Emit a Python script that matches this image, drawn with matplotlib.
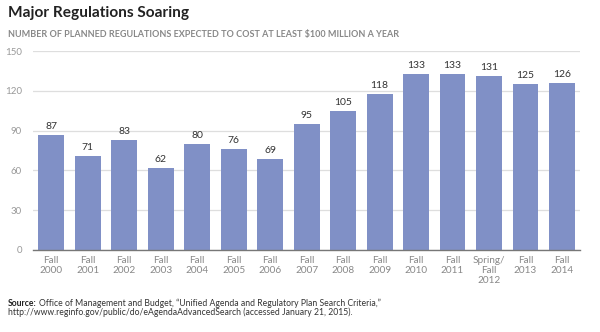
import matplotlib.pyplot as plt
import numpy as np

# Planned regulations expected to cost at least $100 million a year
periods = ["Fall\n2000", "Fall\n2001", "Fall\n2002", "Fall\n2003", "Fall\n2004",
           "Fall\n2005", "Fall\n2006", "Fall\n2007", "Fall\n2008", "Fall\n2009",
           "Fall\n2010", "Fall\n2011", "Spring/\nFall\n2012", "Fall\n2013", "Fall\n2014"]
counts = [87, 71, 83, 62, 80, 76, 69, 95, 105, 118, 133, 133, 131, 125, 126]
yticks = [0, 30, 60, 90, 120, 150]

plt.rcParams['font.family'] = ['Lato', 'DejaVu Sans']

fig = plt.figure(figsize=(6, 3.32), dpi=100)
ax = fig.add_axes([0.055, 0.247, 0.912, 0.599])

x = np.arange(len(counts))
ax.bar(x, counts, width=0.71, color='#8090c6', zorder=2)
for xi, c in zip(x, counts):
    ax.text(xi, c + 3, str(c), ha='center', va='bottom', fontsize=7.5, color='#333333')

ax.set_xlim(-0.5, len(counts) - 0.5)
ax.set_ylim(0, 150)
ax.set_yticks(yticks)
ax.set_yticklabels([str(t) for t in yticks], fontsize=7, color='#999999')
ax.set_xticks(x)
ax.set_xticklabels(periods, fontsize=7.2, color='#888888', linespacing=1.2)
ax.tick_params(axis='both', length=0, pad=4)
ax.tick_params(axis='y', pad=8)
ax.grid(axis='y', color='#dedede', linewidth=0.9, zorder=0)
for side in ['top', 'right', 'left']:
    ax.spines[side].set_visible(False)
ax.spines['bottom'].set_color('#777777')
ax.spines['bottom'].set_linewidth(1.0)
ax.spines['bottom'].set_zorder(3)

fig.text(0.013, 0.962, "Major Regulations Soaring", fontsize=11.1, fontweight='bold',
         color='#222222', va='center')
fig.text(0.013, 0.897, "NUMBER OF PLANNED REGULATIONS EXPECTED TO COST AT LEAST $100 MILLION A YEAR",
         fontsize=6.5, fontweight='bold', color='#888888', va='center')

# source note: bold lead-in, rest of the line placed right after it
src = fig.text(0.013, 0.087, "Source:", fontsize=6.2, fontweight='bold', color='#222222', va='center')
renderer = fig.canvas.get_renderer()
bb = src.get_window_extent(renderer=renderer)
x_after = (bb.x1 + 2) / fig.bbox.width
fig.text(x_after, 0.087, "Office of Management and Budget, \u201cUnified Agenda and Regulatory Plan Search Criteria,\u201d",
         fontsize=6.2, color='#333333', va='center')
fig.text(0.013, 0.060, "http://www.reginfo.gov/public/do/eAgendaAdvancedSearch (accessed January 21, 2015).",
         fontsize=6.2, color='#333333', va='center')

fig.savefig("out.png", dpi=100, facecolor='white')
